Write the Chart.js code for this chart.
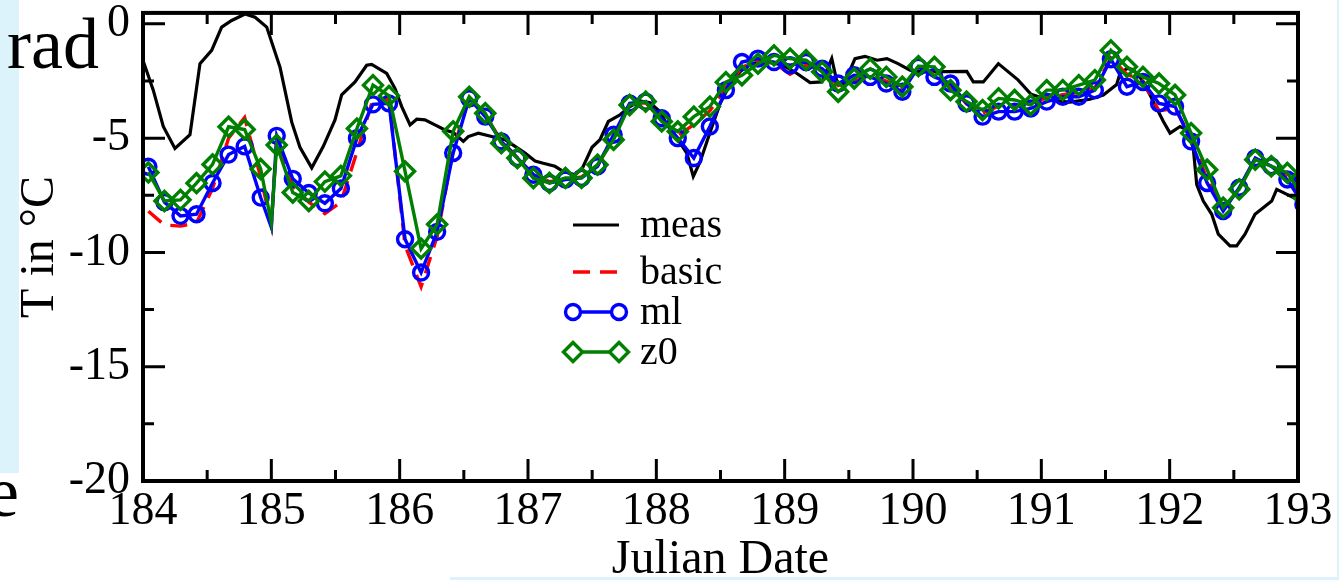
<!DOCTYPE html>
<html>
<head>
<meta charset="utf-8">
<script src="https://cdn.jsdelivr.net/npm/chart.js@4.4.1/dist/chart.umd.min.js"></script>
<style>
  html, body { margin: 0; padding: 0; background: #fff; overflow: hidden; }
  canvas { display: block; }
</style>
</head>
<body>
<canvas id="chart" width="1339" height="580"></canvas>
<script>
// measured temperature (Julian date / deg C)
const measTime = [
  184.000, 184.080, 184.158, 184.249, 184.366, 184.444, 184.535, 184.613, 184.691, 184.795,
  184.873, 184.964, 185.068, 185.159, 185.223, 185.315, 185.405, 185.496, 185.548, 185.652,
  185.743, 185.782, 185.899, 185.964, 186.016, 186.081, 186.133, 186.197, 186.275, 186.353,
  186.418, 186.496, 186.535, 186.613, 186.717, 186.821, 186.899, 186.977, 187.055, 187.119,
  187.210, 187.273, 187.366, 187.421, 187.499, 187.561, 187.626, 187.717, 187.795, 187.873,
  187.951, 188.029, 188.083, 188.161, 188.237, 188.288, 188.340, 188.418, 188.496, 188.574,
  188.652, 188.730, 188.808, 188.886, 188.987, 189.096, 189.198, 189.291, 189.367, 189.406,
  189.455, 189.509, 189.548, 189.626, 189.720, 189.797, 189.883, 189.977, 190.070, 190.419,
  190.470, 190.548, 190.665, 190.818, 190.920, 191.068, 191.224, 191.379, 191.483, 191.587,
  191.613, 191.668, 191.714, 191.769, 191.847, 191.951, 192.003, 192.081, 192.133, 192.184,
  192.211, 192.262, 192.328, 192.379, 192.470, 192.522, 192.587, 192.665, 192.795, 192.834,
  193.000
];
const measTemp = [
  -1.6, -2.9, -4.49, -5.45, -4.85, -1.74, -1.16, -0.14, 0.15, 0.43,
  0.29, -0.14, -1.9, -4.3, -5.4, -6.3, -5.36, -4.2, -3.11, -2.54,
  -1.81, -1.77, -2.17, -2.83, -3.62, -4.42, -4.17, -4.2, -4.42, -4.64,
  -4.75, -5.14, -4.93, -4.78, -4.93, -5.07, -5.36, -5.65, -6.0, -6.1,
  -6.23, -6.45, -6.6, -6.35, -5.4, -5.07, -4.27, -3.98, -3.62, -3.37,
  -3.45, -3.85, -4.4, -5.0, -5.65, -6.67, -6.05, -4.75, -3.5, -2.65,
  -2.1, -1.74, -1.67, -1.7, -1.8, -2.17, -2.57, -2.54, -1.52, -2.5,
  -2.7, -2.03, -1.52, -1.42, -1.59, -1.52, -1.74, -2.03, -2.1, -2.08,
  -2.54, -2.54, -1.74, -2.45, -3.08, -3.35, -3.42, -3.3, -3.11, -2.65,
  -2.17, -1.95, -2.0, -2.32, -3.11, -4.27, -4.78, -4.49, -4.64, -5.43,
  -7.03, -7.75, -8.33, -9.2, -9.71, -9.71, -9.2, -8.33, -7.75, -7.24,
  -7.7
];

// model output times (3-hourly, plus one unmarked sample at 185.0)
const modelTime = [
  184.042, 184.167, 184.292, 184.417, 184.542, 184.667, 184.792, 184.917, 185.000,
  185.042, 185.167, 185.292, 185.417, 185.542, 185.667, 185.792, 185.917,
  186.042, 186.167, 186.292, 186.417, 186.542, 186.667, 186.792, 186.917,
  187.042, 187.167, 187.292, 187.417, 187.542, 187.667, 187.792, 187.917,
  188.042, 188.167, 188.292, 188.417, 188.542, 188.667, 188.792, 188.917,
  189.042, 189.167, 189.292, 189.417, 189.542, 189.667, 189.792, 189.917,
  190.042, 190.167, 190.292, 190.417, 190.542, 190.667, 190.792, 190.917,
  191.042, 191.167, 191.292, 191.417, 191.542, 191.667, 191.792, 191.917,
  192.042, 192.167, 192.292, 192.417, 192.542, 192.667, 192.792, 192.917,
  193.042
];
const unmarkedTime = [185.000];

const basicTemp = [
  -8.2, -8.8, -8.85, -8.7, -7.2, -5.0, -4.1, -6.7, -8.8,
  -5.0, -7.1, -7.8, -8.3, -7.8, -5.6, -3.3, -3.3,
  -9.7, -11.5, -9.3, -5.5, -3.2, -4.0, -5.1, -5.85,
  -6.6, -6.9, -6.8, -6.7, -6.2, -4.9, -3.5, -3.45,
  -4.2, -4.9, -4.4, -3.8, -2.8, -1.9, -1.6, -1.7,
  -2.2, -1.8, -2.0, -2.7, -2.5, -2.3, -2.5, -2.8,
  -1.9, -2.2, -2.7, -3.5, -3.9, -3.6, -3.6, -3.6,
  -3.2, -3.1, -3.0, -2.8, -1.5, -2.2, -2.5, -3.8,
  -3.7, -5.0, -6.8, -8.1, -7.2, -5.9, -6.2, -6.7,
  -7.8
];
const mlTemp = [
  -6.25, -7.8, -8.4, -8.33, -6.96, -5.72, -5.36, -7.6, -8.9,
  -4.9, -6.78, -7.4, -7.85, -7.2, -5.0, -3.52, -3.48,
  -9.42, -10.88, -9.1, -5.65, -3.26, -4.06, -5.14, -5.87,
  -6.6, -6.96, -6.81, -6.74, -6.23, -4.85, -3.48, -3.4,
  -4.13, -5.0, -5.87, -4.49, -2.9, -1.67, -1.52, -1.67,
  -1.81, -1.67, -1.96, -2.61, -2.25, -2.32, -2.61, -2.97,
  -1.88, -2.32, -2.61, -3.48, -4.06, -3.84, -3.84, -3.7,
  -3.4, -3.19, -3.19, -2.9, -1.55, -2.75, -2.54, -3.48,
  -3.62, -5.14, -6.96, -8.19, -7.17, -5.87, -6.23, -6.81,
  -7.9
];
const z0Temp = [
  -6.5, -7.75, -7.7, -6.97, -6.15, -4.5, -4.62, -6.35, -8.7,
  -5.3, -7.38, -7.75, -6.9, -6.65, -4.58, -2.68, -3.15,
  -6.45, -9.83, -8.77, -4.7, -3.19, -3.91, -5.22, -5.87,
  -6.75, -6.96, -6.74, -6.74, -6.16, -5.07, -3.55, -3.4,
  -4.27, -4.71, -4.06, -3.62, -2.55, -2.25, -1.74, -1.38,
  -1.52, -1.59, -2.1, -2.97, -2.39, -1.96, -2.32, -2.75,
  -1.85, -1.88, -2.9, -3.4, -3.77, -3.26, -3.33, -3.55,
  -2.9, -2.9, -2.68, -2.46, -1.16, -1.88, -2.32, -2.61,
  -3.11, -4.78, -6.38, -8.04, -7.24, -5.94, -6.23, -6.52,
  -7.6
];

const xTicks = [184, 185, 186, 187, 188, 189, 190, 191, 192, 193];
const yTicks = [-20, -15, -10, -5, 0];

const SERIF = '"Liberation Serif", "Times New Roman", serif';
const STRIP = '#dcf3fc';

const pairs = (xs, ys) => xs.map((x, i) => ({ x, y: ys[i] }));
const markerRadius = r => ctx => unmarkedTime.includes(modelTime[ctx.dataIndex]) ? 0 : r;

// legend row positions (canvas px)
const legendRows = [225, 272, 312, 352];

const frame = {
  id: 'frame',
  beforeDraw(chart) {
    const ctx = chart.ctx;
    ctx.save();
    ctx.fillStyle = '#fff';
    ctx.fillRect(0, 0, chart.width, chart.height);
    // bits of the slide behind the plot
    ctx.fillStyle = STRIP;
    ctx.fillRect(0, 0, 19, 473);
    ctx.fillRect(450, 577, 889, 3);
    ctx.fillRect(1337, 0, 2, 580);
    ctx.fillStyle = '#000';
    ctx.font = '72px ' + SERIF;
    ctx.textBaseline = 'alphabetic';
    ctx.textAlign = 'left';
    ctx.fillText('rad', 7, 68);
    ctx.fillText('e', -13, 516);
    ctx.restore();
  },
  afterDatasetsDraw(chart) {
    const { ctx, chartArea: a, scales: { x, y } } = chart;
    ctx.save();
    ctx.strokeStyle = '#000';
    ctx.lineWidth = 4;
    ctx.strokeRect(a.left, a.top, a.right - a.left, a.bottom - a.top);

    ctx.lineWidth = 3;
    ctx.beginPath();
    for (let v = xTicks[0]; v <= xTicks[xTicks.length - 1]; v += 0.5) {
      const px = x.getPixelForValue(v);
      const len = Number.isInteger(v) ? 22 : 11;
      ctx.moveTo(px, a.bottom); ctx.lineTo(px, a.bottom - len);
      ctx.moveTo(px, a.top); ctx.lineTo(px, a.top + len);
    }
    for (let v = yTicks[0]; v <= yTicks[yTicks.length - 1]; v += 2.5) {
      const py = y.getPixelForValue(v);
      const len = v % 5 === 0 ? 22 : 11;
      ctx.moveTo(a.left, py); ctx.lineTo(a.left + len, py);
      ctx.moveTo(a.right, py); ctx.lineTo(a.right - len, py);
    }
    ctx.stroke();
    ctx.restore();
  },
  afterDraw(chart) {
    const { ctx, chartArea: a } = chart;
    ctx.save();
    ctx.fillStyle = '#000';
    ctx.font = '48px ' + SERIF;
    ctx.textAlign = 'center';
    ctx.textBaseline = 'alphabetic';
    ctx.fillText('Julian Date', (a.left + a.right) / 2, 573);
    ctx.translate(53, (a.top + a.bottom) / 2);
    ctx.rotate(-Math.PI / 2);
    ctx.fillText('T in \u00B0C', 0, 0);
    ctx.restore();

    // legend
    ctx.save();
    ctx.font = '40px ' + SERIF;
    ctx.textAlign = 'left';
    ctx.textBaseline = 'alphabetic';
    const x0 = 573, x1 = 619;
    chart.data.datasets.forEach((ds, i) => {
      const ry = legendRows[i];
      ctx.strokeStyle = ds.borderColor;
      ctx.lineWidth = ds.borderWidth;
      ctx.setLineDash(ds.borderDash || []);
      ctx.beginPath();
      ctx.moveTo(x0, ry); ctx.lineTo(x1, ry);
      ctx.stroke();
      ctx.setLineDash([]);
      if (ds.legendMarker) {
        const opts = { pointStyle: ds.pointStyle, radius: ds.legendMarker, borderWidth: ds.pointBorderWidth, rotation: 0 };
        ctx.fillStyle = '#fff';
        ctx.strokeStyle = ds.borderColor;
        ctx.lineWidth = ds.pointBorderWidth;
        Chart.helpers.drawPoint(ctx, opts, x0, ry);
        Chart.helpers.drawPoint(ctx, opts, x1, ry);
      }
      ctx.fillStyle = '#000';
      ctx.fillText(ds.label, 640, ry + 12);
    });
    ctx.restore();
  }
};

new Chart(document.getElementById('chart'), {
  type: 'line',
  data: {
    datasets: [
      {
        label: 'meas', order: 3,
        data: pairs(measTime, measTemp),
        borderColor: '#000', borderWidth: 3.2, pointRadius: 0
      },
      {
        label: 'basic', order: 2,
        data: pairs(modelTime, basicTemp),
        borderColor: '#ff0000', borderWidth: 3.4, borderDash: [17, 10], pointRadius: 0
      },
      {
        label: 'ml', order: 1,
        data: pairs(modelTime, mlTemp),
        borderColor: '#0000ff', borderWidth: 3.4,
        pointStyle: 'circle', pointRadius: markerRadius(7.5), pointBorderWidth: 3.4,
        pointBorderColor: '#0000ff', pointBackgroundColor: 'rgba(0,0,0,0)',
        legendMarker: 7.5
      },
      {
        label: 'z0', order: 0,
        data: pairs(modelTime, z0Temp),
        borderColor: '#008000', borderWidth: 3.4,
        pointStyle: 'rectRot', pointRadius: markerRadius(9.5), pointBorderWidth: 3.4,
        pointBorderColor: '#008000', pointBackgroundColor: 'rgba(0,0,0,0)',
        legendMarker: 9.5
      }
    ]
  },
  options: {
    responsive: false,
    animation: false,
    devicePixelRatio: 1,
    parsing: false,
    normalized: true,
    events: [],
    elements: { line: { tension: 0, fill: false, borderJoinStyle: 'miter' } },
    layout: { padding: { left: 0, right: 41, top: 10.7, bottom: 0 } },
    plugins: { legend: { display: false }, tooltip: { enabled: false } },
    scales: {
      x: {
        type: 'linear', position: 'bottom', min: 184, max: 193,
        afterBuildTicks: s => { s.ticks = xTicks.map(v => ({ value: v })); },
        afterFit: s => { s.height = 99; s.paddingLeft = 0; s.paddingRight = 0; },
        grid: { display: false, drawTicks: false },
        border: { display: false },
        ticks: { color: '#000', font: { family: SERIF, size: 46 }, padding: 3, maxRotation: 0, autoSkip: false }
      },
      y: {
        type: 'linear', position: 'left', min: -20, max: 0.48,
        afterBuildTicks: s => { s.ticks = yTicks.map(v => ({ value: v })); },
        afterFit: s => { s.width = 143; s.paddingTop = 0; s.paddingBottom = 0; },
        grid: { display: false, drawTicks: false },
        border: { display: false },
        ticks: { color: '#000', font: { family: SERIF, size: 46 }, padding: 13, autoSkip: false }
      }
    }
  },
  plugins: [frame]
});
</script>
</body>
</html>
